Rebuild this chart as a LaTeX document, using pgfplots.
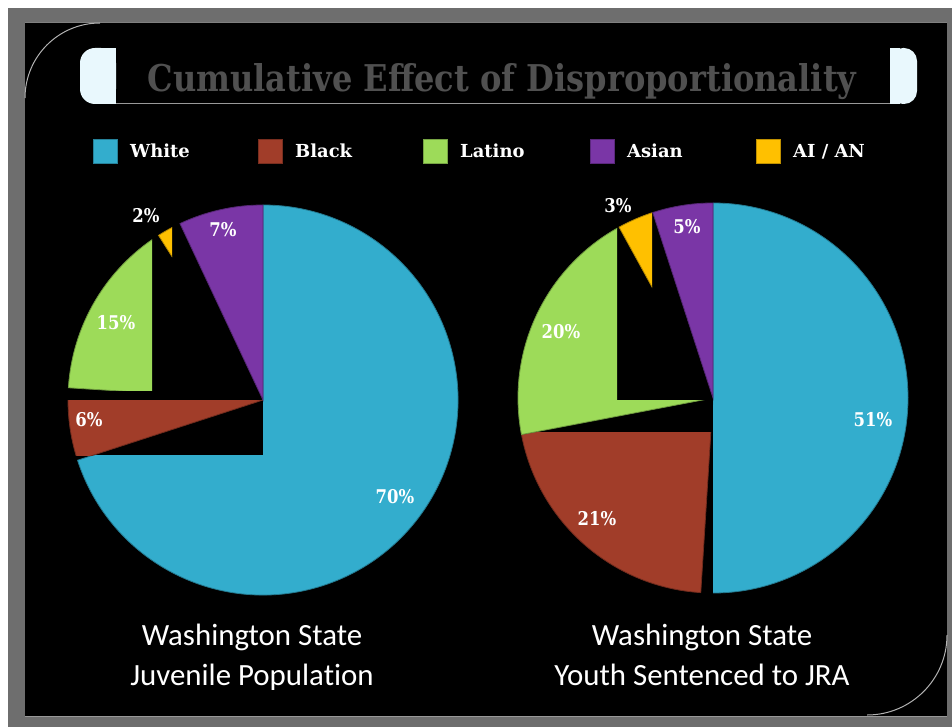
\documentclass[border=0pt]{standalone}
\usepackage{pgfplots}
\pgfplotsset{compat=1.18}
\usepackage{pgfplotstable}
\usepackage{fontspec}
\setmainfont{DejaVu Serif}
\newfontfamily\slab[FakeStretch=0.87]{DejaVu Serif}
\newfontfamily\slabn{DejaVu Serif}
\newfontfamily\cali[Ligatures=NoCommon]{Carlito}

\definecolor{cW}{HTML}{33ADCD}
\definecolor{cB}{HTML}{A13D29}
\definecolor{cL}{HTML}{9DDB59}
\definecolor{cA}{HTML}{7A36A6}
\definecolor{cI}{HTML}{FFC000}
\definecolor{framegray}{HTML}{6E6E6E}
\definecolor{titlecap}{HTML}{E9F8FD}
\definecolor{titletext}{HTML}{505050}

\tikzset{pielab/.style={font=\slab\bfseries\fontsize{19}{20}\selectfont, text=white, inner sep=0pt},
  captext/.style={font=\cali\fontsize{31}{36}\selectfont, text=white, anchor=base, inner sep=0pt}}

% shares in percent, listed counterclockwise from 12 o'clock
\pgfplotstableread{
group share
Asian 7
AIAN 2
Latino 15
Black 6
White 70
}\juvenile
\pgfplotstableread{
group share
Asian 5
AIAN 3
Latino 20
Black 21
White 51
}\jra

\newcommand{\getshare}[3]{\pgfplotstablegetelem{#2}{share}\of#1\edef#3{\pgfplotsretval}}
\newcommand{\pieslice}[5]{%
  \fill[#5, draw=#5!70!black, line width=0.8bp] (axis cs:#1,#2) -- ++(canvas polar cs:angle=#3,radius=195bp)
    arc[start angle=#3,end angle=#4,radius=195bp] -- cycle;}
\newcommand{\legitem}[3]{%
  \fill[#2, draw=#2!75!black, line width=0.8bp] (axis cs:#1,139) rectangle (axis cs:#1+24,163);
  \node[font=\slabn\bfseries\fontsize{18}{20}\selectfont, text=white, anchor=base west, inner sep=0pt]
    at (axis cs:#1+37,158) {#3};}

\begin{document}
\getshare{\juvenile}{0}{\jAs}\getshare{\juvenile}{1}{\jAI}\getshare{\juvenile}{2}{\jL}%
\getshare{\juvenile}{3}{\jB}\getshare{\juvenile}{4}{\jW}%
\getshare{\jra}{0}{\kAs}\getshare{\jra}{1}{\kAI}\getshare{\jra}{2}{\kL}%
\getshare{\jra}{3}{\kB}\getshare{\jra}{4}{\kW}%
\pgfmathsetmacro{\ja}{90+3.6*\jAs}\pgfmathsetmacro{\jb}{\ja+3.6*\jAI}%
\pgfmathsetmacro{\jc}{\jb+3.6*\jL}\pgfmathsetmacro{\jd}{\jc+3.6*\jB}%
\pgfmathsetmacro{\je}{\jd+3.6*\jW}%
\pgfmathsetmacro{\ka}{90+3.6*\kAs}\pgfmathsetmacro{\kb}{\ka+3.6*\kAI}%
\pgfmathsetmacro{\kc}{\kb+3.6*\kL}\pgfmathsetmacro{\kd}{\kc+3.6*\kB}%
\pgfmathsetmacro{\ke}{\kd+3.6*\kW}%
\begin{tikzpicture}
\begin{axis}[width=952bp,height=727bp,scale only axis,
  xmin=0,xmax=952,ymin=0,ymax=727,y dir=reverse,hide axis,clip=false]
% frame
\fill[white] (0,0) rectangle (952,727);
\fill[framegray] (8,8) rectangle (952,727);
\fill[black] (25,23) rectangle (947,716);
\draw[gray!80!white, line width=1bp] (25,716) -- (947,716);
\draw[gray, line width=1bp] (25,23) -- (947,23);
\draw[gray!60!white, line width=1bp] (100,23) arc[start angle=90,end angle=180,radius=75bp];
\draw[gray!60!white, line width=1bp] (947,635) arc[start angle=0,end angle=-90,radius=80bp];
% title bar
\fill[titlecap, rounded corners=15bp] (80,48) rectangle (116,104);
\fill[titlecap] (100,48) rectangle (116,104);
\fill[titlecap, rounded corners=13bp] (890,48) rectangle (917,104);
\fill[titlecap] (890,48) rectangle (900,104);
\draw[gray!80, line width=1bp] (116,104) -- (890,104);
\node[font=\slab\bfseries\fontsize{37}{40}\selectfont, text=titletext, anchor=base, inner sep=0pt]
  at (502,92) {Cumulative Effect of Disproportionality};
% legend
\legitem{93}{cW}{White}
\legitem{258}{cB}{Black}
\legitem{423}{cL}{Latino}
\legitem{590}{cA}{Asian}
\legitem{756}{cI}{AI / AN}
% left pie: juvenile population
\pieslice{263}{400}{\jd}{\je}{cW}
\fill[black] (60,400) rectangle (263,455);
\begin{scope}
  \clip (40,400) rectangle (263,455);
  \pieslice{263}{400}{\jc}{\jd}{cB}
\end{scope}
\begin{scope}
  \clip (40,150) rectangle (152,390);
  \pieslice{263}{400}{\jb}{\jc}{cL}
\end{scope}
\begin{scope}
  \clip (40,150) rectangle (172,263);
  \pieslice{263}{400}{\ja}{\jb}{cI}
\end{scope}
\pieslice{263}{400}{90}{\ja}{cA}
% right pie: youth sentenced to JRA
\begin{scope}
  \clip (713,150) rectangle (952,650);
  \pieslice{713}{398}{\kd}{\ke}{cW}
\end{scope}
\begin{scope}
  \clip (480,432) rectangle (713,650);
  \pieslice{713}{398}{\kc}{\kd}{cB}
\end{scope}
\begin{scope}
  \clip (480,150) -- (617,150) -- (617,400) -- (713,400) -- (713,650) -- (480,650) -- cycle;
  \pieslice{713}{398}{\kb}{\kc}{cL}
\end{scope}
\begin{scope}
  \clip (480,150) rectangle (652,288);
  \pieslice{713}{398}{\ka}{\kb}{cI}
\end{scope}
\pieslice{713}{398}{90}{\ka}{cA}
% data labels
\node[pielab] at (395,497) {\jW\%};
\node[pielab] at (89,420) {\jB\%};
\node[pielab] at (116,323) {\jL\%};
\node[pielab] at (146,216) {\jAI\%};
\node[pielab] at (223,230) {\jAs\%};
\node[pielab] at (873,420) {\kW\%};
\node[pielab] at (597,519) {\kB\%};
\node[pielab] at (561,332) {\kL\%};
\node[pielab] at (618,206) {\kAI\%};
\node[pielab] at (687,227) {\kAs\%};
% captions
\node[captext] at (252,645) {Washington State};
\node[captext] at (252,685) {Juvenile Population};
\node[captext] at (702,645) {Washington State};
\node[captext] at (702,685) {Youth Sentenced to JRA};
\end{axis}
\end{tikzpicture}
\end{document}
